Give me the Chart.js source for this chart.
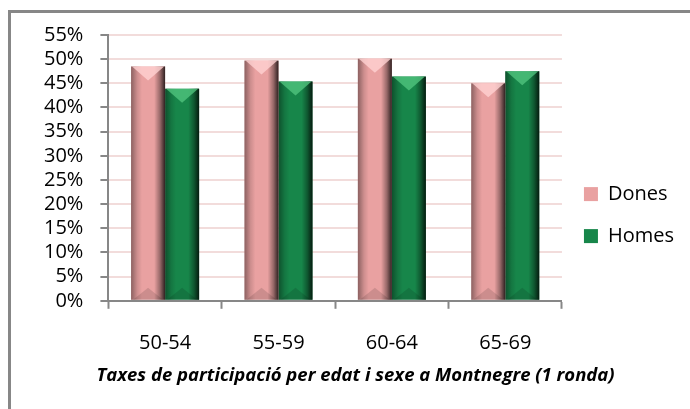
<!DOCTYPE html>
<html>
<head>
<meta charset="utf-8">
<script src="https://cdn.jsdelivr.net/npm/chart.js@4.4.0/dist/chart.umd.min.js"></script>
<style>
  html, body { margin: 0; padding: 0; background: #ffffff; }
  #wrap { width: 690px; height: 409px; }
</style>
</head>
<body>
<div id="wrap"><canvas id="chart" width="690" height="409"></canvas></div>
<script>
// chart data
var ageGroups = ['50-54', '55-59', '60-64', '65-69'];
var donesRates = [48.5, 49.7, 50.1, 45.0];
var homesRates = [43.9, 45.4, 46.4, 47.5];
var yTicks = [0, 5, 10, 15, 20, 25, 30, 35, 40, 45, 50, 55];

var FONT = '"Open Sans", "Liberation Sans", sans-serif';

// frame round the whole chart (only top and left edge fit on the picture)
var framePlugin = {
    id: 'frame',
    beforeDraw: function(chart) {
        var ctx = chart.ctx;
        ctx.save();
        ctx.fillStyle = '#ffffff';
        ctx.fillRect(0, 0, chart.width, chart.height);
        ctx.strokeStyle = '#878787';
        ctx.lineWidth = 3;
        ctx.strokeRect(9.5, 11.5, chart.width + 20, chart.height + 20);
        ctx.restore();
    }
};

// bevel shading on every bar, positions taken from the bar elements
var bevelPlugin = {
    id: 'bevel',
    afterDatasetsDraw: function(chart) {
        var ctx = chart.ctx;
        var tops = ['rgba(255,210,210,0.8)', 'rgba(80,195,125,0.8)'];
        chart.data.datasets.forEach(function(ds, i) {
            var meta = chart.getDatasetMeta(i);
            meta.data.forEach(function(bar) {
                var p = bar.getProps(['x', 'y', 'base', 'width'], true);
                var left = p.x - p.width / 2;
                var right = p.x + p.width / 2;
                ctx.save();
                var g = ctx.createLinearGradient(left, 0, right, 0);
                g.addColorStop(0, 'rgba(0,0,0,0.4)');
                g.addColorStop(0.18, 'rgba(0,0,0,0.12)');
                g.addColorStop(0.32, 'rgba(0,0,0,0)');
                g.addColorStop(0.68, 'rgba(0,0,0,0)');
                g.addColorStop(0.85, 'rgba(0,0,0,0.35)');
                g.addColorStop(1, 'rgba(0,0,0,0.8)');
                ctx.fillStyle = g;
                ctx.fillRect(left, p.y, p.width, p.base - p.y);
                // top facet
                ctx.beginPath();
                ctx.moveTo(left + 1, p.y);
                ctx.lineTo(right - 1, p.y);
                ctx.lineTo(p.x, p.y + 14);
                ctx.closePath();
                ctx.fillStyle = tops[i];
                ctx.fill();
                // bottom facet
                ctx.beginPath();
                ctx.moveTo(left + 2, p.base);
                ctx.lineTo(right - 2, p.base);
                ctx.lineTo(p.x, p.base - 12);
                ctx.closePath();
                ctx.fillStyle = 'rgba(0,0,0,0.12)';
                ctx.fill();
                ctx.restore();
            });
        });
    }
};

new Chart(document.getElementById('chart').getContext('2d'), {
    type: 'bar',
    data: {
        labels: ageGroups,
        datasets: [{
            label: 'Dones',
            data: donesRates,
            backgroundColor: '#E9A1A1',
            borderWidth: 0,
            categoryPercentage: 0.6,
            barPercentage: 1.0
        }, {
            label: 'Homes',
            data: homesRates,
            backgroundColor: '#17864A',
            borderWidth: 0,
            categoryPercentage: 0.6,
            barPercentage: 1.0
        }]
    },
    options: {
        responsive: false,
        animation: false,
        devicePixelRatio: 1,
        layout: {
            padding: { left: 27, top: 35, right: 6, bottom: 25 }
        },
        plugins: {
            legend: {
                position: 'right',
                // empty legend title, only used to push the items a bit lower
                title: { display: true, text: '', font: { size: 1 }, padding: { top: 10, bottom: 0 } },
                labels: {
                    boxWidth: 14,
                    boxHeight: 14,
                    padding: 22,
                    color: '#000000',
                    font: { family: FONT, size: 20 }
                }
            },
            title: {
                display: true,
                position: 'bottom',
                text: 'Taxes de participació per edat i sexe a Montnegre (1 ronda)',
                color: '#000000',
                padding: { top: -12, bottom: -3 },
                font: { family: FONT, size: 18.5, weight: 'bold', style: 'italic' }
            },
            tooltip: { enabled: false }
        },
        scales: {
            x: {
                offset: true,
                grid: {
                    offset: true,
                    drawOnChartArea: false,
                    drawTicks: true,
                    tickLength: 8,
                    tickColor: '#878787',
                    tickWidth: 2
                },
                border: { color: '#878787', width: 2 },
                ticks: {
                    color: '#000000',
                    padding: 22,
                    font: { family: FONT, size: 20 }
                }
            },
            y: {
                min: 0,
                max: 55,
                afterBuildTicks: function(axis) {
                    axis.ticks = yTicks.map(function(v) { return { value: v }; });
                },
                grid: {
                    color: '#F2DCDB',
                    lineWidth: 2,
                    tickLength: 8,
                    tickColor: '#878787',
                    tickWidth: 2
                },
                border: { color: '#878787', width: 2 },
                ticks: {
                    autoSkip: false,
                    color: '#000000',
                    padding: 17,
                    font: { family: FONT, size: 20 },
                    callback: function(v) { return v + '%'; }
                }
            }
        }
    },
    plugins: [framePlugin, bevelPlugin]
});
</script>
</body>
</html>
